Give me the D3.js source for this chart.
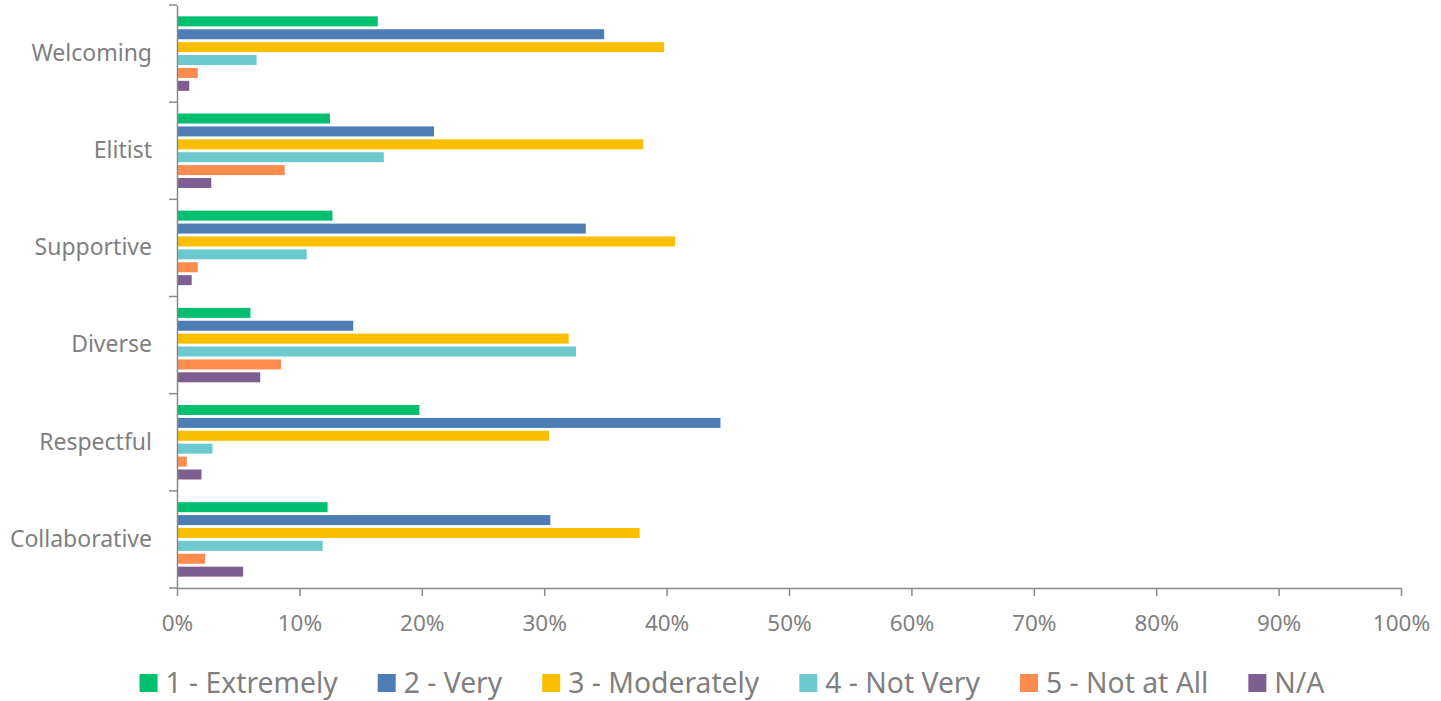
<!DOCTYPE html>
<html>
<head>
<meta charset="utf-8">
<script src="https://cdn.jsdelivr.net/npm/d3@7"></script>
<style>
  body { margin: 0; background: #fff; }
  svg { display: block; font-family: "Noto Sans", sans-serif; }
</style>
</head>
<body>
<svg id="chart" width="1441" height="701"></svg>
<script>
// categories top to bottom
var categories = ["Welcoming", "Elitist", "Supportive", "Diverse", "Respectful", "Collaborative"];
var seriesNames = ["1 - Extremely", "2 - Very", "3 - Moderately", "4 - Not Very", "5 - Not at All", "N/A"];
var seriesColors = ["#00bf6f", "#4e7cb5", "#f9be00", "#6cc9cd", "#ff8c4f", "#7d5e91"];

// percent values, one array per series, in category order
var extremely  = [16.4, 12.5, 12.7,  6.0, 19.8, 12.3];
var very       = [34.9, 21.0, 33.4, 14.4, 44.4, 30.5];
var moderately = [39.8, 38.1, 40.7, 32.0, 30.4, 37.8];
var notVery    = [ 6.5, 16.9, 10.6, 32.6,  2.9, 11.9];
var notAtAll   = [ 1.7,  8.8,  1.7,  8.5,  0.8,  2.3];
var na         = [ 1.0,  2.8,  1.2,  6.8,  2.0,  5.4];
var seriesValues = [extremely, very, moderately, notVery, notAtAll, na];

var xTicks = [0, 10, 20, 30, 40, 50, 60, 70, 80, 90, 100];

var axisColor = "#898989", textColor = "#7f7f7f";

var svg = d3.select("#chart");
var plotLeft = 177, plotRight = 1401, plotTop = 5, plotBottom = 588;

var x = d3.scaleLinear().domain([0, 100]).range([plotLeft, plotRight]);
var y = d3.scaleBand().domain(categories).range([plotTop, plotBottom]).padding(0);
var sub = d3.scaleBand().domain(seriesNames).range([0, y.bandwidth()])
  .paddingInner(0.225).paddingOuter(0.88);

//Bars
var rows = [];
categories.forEach(function(c, i) {
  seriesNames.forEach(function(s, j) {
    rows.push({cat: c, series: s, value: seriesValues[j][i], color: seriesColors[j]});
  });
});

svg.append("g").selectAll("rect")
  .data(rows)
  .enter().append("rect")
  .attr("x", x(0))
  .attr("y", function(d) { return y(d.cat) + sub(d.series); })
  .attr("width", function(d) { return x(d.value) - x(0); })
  .attr("height", sub.bandwidth())
  .attr("fill", function(d) { return d.color; });

//X axis
var xAxis = svg.append("g")
  .attr("transform", "translate(0," + plotBottom + ")")
  .call(d3.axisBottom(x).tickValues(xTicks)
    .tickFormat(function(d) { return d + "%"; })
    .tickSize(8).tickSizeOuter(0).tickPadding(19));
xAxis.select(".domain").attr("stroke", axisColor).attr("stroke-width", 1.5);
xAxis.selectAll(".tick line").attr("stroke", axisColor).attr("stroke-width", 1.5);
xAxis.selectAll(".tick text").attr("fill", textColor)
  .style("font-size", "22.5px").style("font-family", "'Noto Sans', sans-serif");

//Y axis labels
var yAxis = svg.append("g")
  .attr("transform", "translate(" + plotLeft + ",0)")
  .call(d3.axisLeft(y).tickSize(0).tickSizeOuter(0).tickPadding(25));
yAxis.select(".domain").attr("stroke", axisColor).attr("stroke-width", 1.5);
yAxis.selectAll(".tick text").attr("fill", textColor)
  .style("font-size", "23px").style("font-family", "'Noto Sans', sans-serif");

// boundary ticks between categories
var bounds = categories.map(function(c) { return y(c); }).concat([plotBottom]);
svg.append("g").selectAll("line")
  .data(bounds)
  .enter().append("line")
  .attr("x1", plotLeft - 8).attr("x2", plotLeft)
  .attr("y1", function(d) { return d; }).attr("y2", function(d) { return d; })
  .attr("stroke", axisColor).attr("stroke-width", 1.5);

//Legend
var legend = svg.append("g");
var items = legend.selectAll("g").data(seriesNames).enter().append("g");
items.append("rect").attr("width", 18).attr("height", 18).attr("y", -9)
  .attr("fill", function(d, i) { return seriesColors[i]; });
items.append("text").attr("x", 26).attr("dy", "0.35em")
  .attr("fill", textColor).style("font-size", "28.3px")
  .text(function(d) { return d; });

var pos = 0;
items.each(function() {
  d3.select(this).attr("transform", "translate(" + pos + ",0)");
  pos += 26 + d3.select(this).select("text").node().getComputedTextLength() + 40;
});
var total = pos - 40;
legend.attr("transform", "translate(" + (732 - total / 2) + ",683)");
</script>
</body>
</html>
